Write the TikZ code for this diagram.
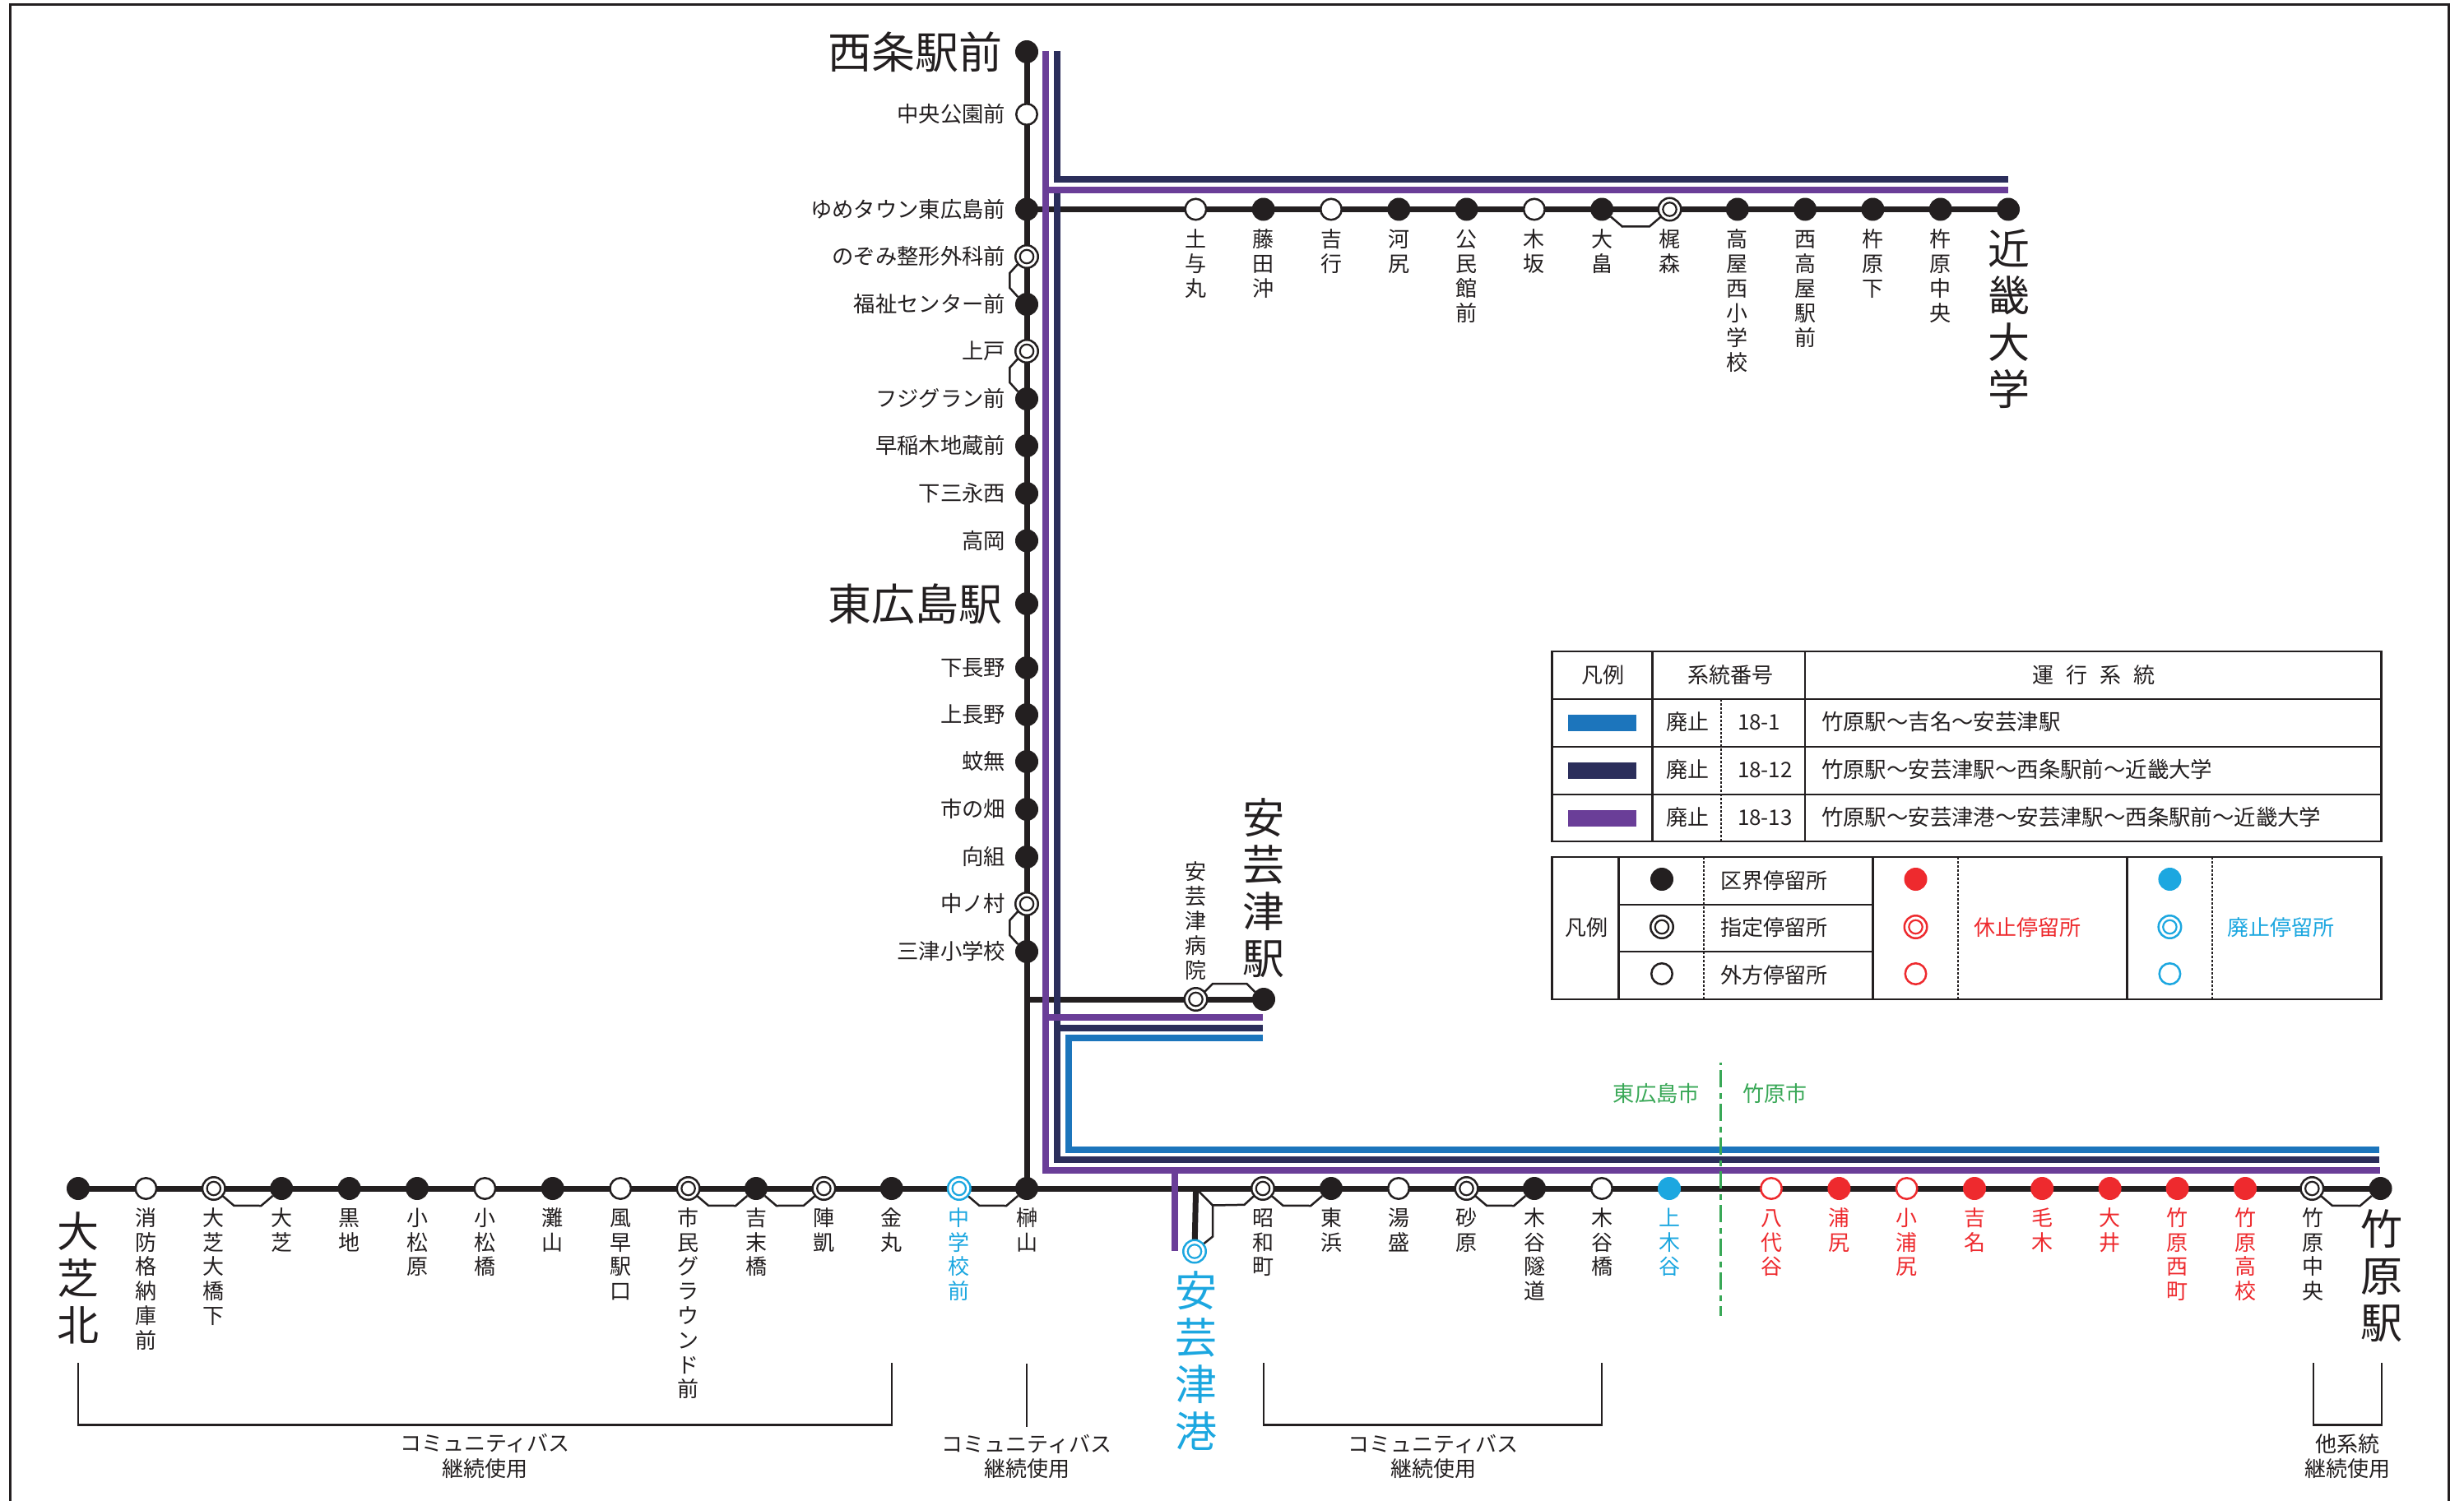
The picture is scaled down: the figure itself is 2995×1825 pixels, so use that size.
\documentclass[tikz,border=0pt]{standalone}
\usepackage{fontspec}
\setmainfont{Noto Sans CJK JP}
\usetikzlibrary{calc}
\pgfdeclarelayer{bg}
\pgfsetlayers{bg,main}
\definecolor{ink}{HTML}{231F20}
\definecolor{routepurple}{HTML}{6A3E98}
\definecolor{routenavy}{HTML}{2B2E5B}
\definecolor{routeblue}{HTML}{1C75BC}
\definecolor{stopred}{HTML}{EE2A2E}
\definecolor{stopcyan}{HTML}{1CA7E0}
\definecolor{citygreen}{HTML}{39A857}
\tikzset{
  stopfull/.style={circle,inner sep=0pt,outer sep=0pt,minimum size=14pt,fill=#1,text=#1},
  stopfull/.default=ink,
  stopopen/.style={circle,inner sep=0pt,outer sep=0pt,minimum size=12.75pt,fill=white,draw=#1,line width=1.25pt},
  stopopen/.default=ink,
  stopdbl/.style={circle,inner sep=0pt,outer sep=0pt,minimum size=13.75pt,fill=white,draw=#1,line width=1.25pt,
    path picture={\draw[#1,line width=1.1pt] (path picture bounding box.center) circle (4.1pt);}},
  stopdbl/.default=ink,
  vlabel/.style={anchor=north,inner sep=0pt,outer sep=0pt,align=center,yshift=6.5pt,
    font=\fontsize{13pt}{15pt}\selectfont},
  vlabellow/.style={vlabel,font=\fontsize{13pt}{14.9pt}\selectfont},
  vbig/.style={anchor=north,inner sep=0pt,outer sep=0pt,align=center,yshift=13pt,
    font=\fontsize{25.5pt}{28.5pt}\selectfont},
  hbase/.style={inner sep=0pt,outer sep=0pt,font=\fontsize{13pt}{15pt}\selectfont,text=ink,
    text height=11.44pt,text depth=1.56pt},
  hlabR/.style={hbase,anchor=east,font=\fontsize{13.15pt}{15pt}\selectfont},
  hlabL/.style={hbase,anchor=west},
  hlabW/.style={hbase,anchor=west,font=\fontsize{13.2pt}{15pt}\selectfont},
  hlabC/.style={hbase,anchor=center},
  hbigR/.style={anchor=east,inner sep=0pt,outer sep=0pt,font=\fontsize{26.5pt}{28pt}\selectfont,text=ink,
    text height=23.32pt,text depth=3.18pt},
  mainline/.style={draw=ink,line width=3.5pt},
  routeP/.style={draw=routepurple,line width=4pt},
  routeN/.style={draw=routenavy,line width=4pt},
  routeB/.style={draw=routeblue,line width=4pt},
  bypass/.style={draw=ink,line width=1.25pt,line join=miter},
  bracket/.style={draw=ink,line width=1.25pt},
  tableline/.style={draw=ink,line width=1.3pt},
  tabledots/.style={draw=ink,line width=1pt,dash pattern=on 1.5pt off 1pt},
  swatch/.style={inner sep=0pt,outer sep=0pt,minimum width=41.5pt,minimum height=10pt},
}
\newcommand{\vlab}[5][ink]{\node[vlabel,text=#1] (#2) at (#3,#4) {\rule{0pt}{.88em}#5};}
\newcommand{\vlow}[5][ink]{\node[vlabellow,text=#1] (#2) at (#3,#4) {\rule{0pt}{.88em}#5};}
\newcommand{\vbiglab}[5][ink]{\node[vbig,text=#1] (#2) at (#3,#4) {\rule{0pt}{.88em}#5};}
\newcommand{\bypassH}[2]{\draw[bypass] (#1.-40) -- ($(#1.-40)+(14,12)$) -- ($(#2.-140)+(-14,12)$) -- (#2.-140);}
\newcommand{\bypassV}[2]{\draw[bypass] (#1.-140) -- ($(#1.-140)+(-10,11)$) -- ($(#2.140)+(-10,-11)$) -- (#2.140);}
\begin{document}
\begin{tikzpicture}[x=0.5pt,y=-0.5pt]
\useasboundingbox (0,0) rectangle (2995,1825);

% ---------- vertical trunk stops ----------
\node[stopfull] (saijo) at (1248,63) {};
\node[stopopen] (chuo) at (1248,139) {};
\node[stopfull] (yume) at (1248,254.5) {};
\node[stopdbl] (nozomi) at (1248,312) {};
\node[stopfull] (fukushi) at (1248,370) {};
\node[stopdbl] (kamito) at (1248,427) {};
\node[stopfull] (fuji) at (1248,485) {};
\node[stopfull] (wasegi) at (1248,542) {};
\node[stopfull] (shimomi) at (1248,600) {};
\node[stopfull] (takaoka) at (1248,657.5) {};
\node[stopfull] (hiroeki) at (1248,734) {};
\node[stopfull] (shimonaga) at (1248,812) {};
\node[stopfull] (kaminaga) at (1248,869) {};
\node[stopfull] (kanashi) at (1248,926) {};
\node[stopfull] (ichino) at (1248,984) {};
\node[stopfull] (mukai) at (1248,1042) {};
\node[stopdbl] (nakano) at (1248,1099) {};
\node[stopfull] (mitsusho) at (1248,1157) {};

\node[hbigR] (t-saijo) at (1218,63) {西条駅前};
\node[hlabR] (t-chuo) at (1222,139) {中央公園前};
\node[hlabR] (t-yume) at (1222,254.5) {ゆめタウン東広島前};
\node[hlabR] (t-nozomi) at (1222,312) {のぞみ整形外科前};
\node[hlabR] (t-fukushi) at (1222,370) {福祉センター前};
\node[hlabR] (t-kamito) at (1222,427) {上戸};
\node[hlabR] (t-fuji) at (1222,485) {フジグラン前};
\node[hlabR] (t-wasegi) at (1222,542) {早稲木地蔵前};
\node[hlabR] (t-shimomi) at (1222,600) {下三永西};
\node[hlabR] (t-takaoka) at (1222,657.5) {高岡};
\node[hbigR] (t-hiroeki) at (1218,734) {東広島駅};
\node[hlabR] (t-shimonaga) at (1222,812) {下長野};
\node[hlabR] (t-kaminaga) at (1222,869) {上長野};
\node[hlabR] (t-kanashi) at (1222,926) {蚊無};
\node[hlabR] (t-ichino) at (1222,984) {市の畑};
\node[hlabR] (t-mukai) at (1222,1042) {向組};
\node[hlabR] (t-nakano) at (1222,1099) {中ノ村};
\node[hlabR] (t-mitsusho) at (1222,1157) {三津小学校};

% ---------- top branch ----------
\node[stopopen] (doyo) at (1453.4,254.5) {};
\node[stopfull] (fujita) at (1535.7,254.5) {};
\node[stopopen] (yoshiyuki) at (1618,254.5) {};
\node[stopfull] (kawajiri) at (1700.3,254.5) {};
\node[stopfull] (komin) at (1782.6,254.5) {};
\node[stopopen] (kisaka) at (1864.9,254.5) {};
\node[stopfull] (ohata) at (1947.2,254.5) {};
\node[stopdbl] (kajimori) at (2029.5,254.5) {};
\node[stopfull] (takayanishi) at (2111.8,254.5) {};
\node[stopfull] (nishitakaya) at (2194.1,254.5) {};
\node[stopfull] (kinegahara) at (2276.4,254.5) {};
\node[stopfull] (kinechuo) at (2358.7,254.5) {};
\node[stopfull] (kinki) at (2441,254.5) {};

\vlab{t-doyo}{1453.4}{291}{土\\与\\丸}
\vlab{t-fujita}{1535.7}{291}{藤\\田\\沖}
\vlab{t-yoshiyuki}{1618}{291}{吉\\行}
\vlab{t-kawajiri}{1700.3}{291}{河\\尻}
\vlab{t-komin}{1782.6}{291}{公\\民\\館\\前}
\vlab{t-kisaka}{1864.9}{291}{木\\坂}
\vlab{t-ohata}{1947.2}{291}{大\\畠}
\vlab{t-kajimori}{2029.5}{291}{梶\\森}
\vlab{t-takayanishi}{2111.8}{291}{高\\屋\\西\\小\\学\\校}
\vlab{t-nishitakaya}{2194.1}{291}{西\\高\\屋\\駅\\前}
\vlab{t-kinegahara}{2276.4}{291}{杵\\原\\下}
\vlab{t-kinechuo}{2358.7}{291}{杵\\原\\中\\央}
\vbiglab{t-kinki}{2441.5}{303}{近\\畿\\大\\学}

% ---------- Akitsu station spur ----------
\coordinate (akiJ) at (1248,1215);
\node[stopdbl] (akibyo) at (1453.5,1215) {};
\node[stopfull] (akieki) at (1536,1215) {};
\vlab{t-akibyo}{1453.5}{1060}{安\\芸\\津\\病\\院}
\vbiglab{t-akieki}{1536}{995}{安\\芸\\津\\駅}

% ---------- bottom line ----------
\node[stopfull] (oshibakita) at (95,1445) {};
\node[stopopen] (shobo) at (177.4,1445) {};
\node[stopdbl] (oshibaohashi) at (259.8,1445) {};
\node[stopfull] (oshiba) at (342.2,1445) {};
\node[stopfull] (kuroji) at (424.6,1445) {};
\node[stopfull] (komatsubara) at (507,1445) {};
\node[stopopen] (komatsubashi) at (589.4,1445) {};
\node[stopfull] (nadayama) at (671.8,1445) {};
\node[stopopen] (kazahaya) at (754.2,1445) {};
\node[stopdbl] (shimin) at (836.6,1445) {};
\node[stopfull] (yoshisue) at (919,1445) {};
\node[stopdbl] (jingai) at (1001.4,1445) {};
\node[stopfull] (kanamaru) at (1083.8,1445) {};
\node[stopdbl=stopcyan] (chugaku) at (1165.8,1445) {};
\node[stopfull] (sakaki) at (1248,1445) {};
\node[stopdbl] (showa) at (1535,1445) {};
\node[stopfull] (higashihama) at (1618,1445) {};
\node[stopopen] (yumori) at (1700,1445) {};
\node[stopdbl] (sunahara) at (1782.5,1445) {};
\node[stopfull] (kitani) at (1865,1445) {};
\node[stopopen] (kitanibashi) at (1947,1445) {};
\node[stopfull=stopcyan] (kamikitani) at (2029,1445) {};
\node[stopopen=stopred] (yashirodani) at (2153,1445) {};
\node[stopfull=stopred] (urajiri) at (2235.4,1445) {};
\node[stopopen=stopred] (kourajiri) at (2317.6,1445) {};
\node[stopfull=stopred] (yoshina) at (2400,1445) {};
\node[stopfull=stopred] (kego) at (2482.2,1445) {};
\node[stopfull=stopred] (oi) at (2564.6,1445) {};
\node[stopfull=stopred] (takenishi) at (2646.6,1445) {};
\node[stopfull=stopred] (takekoko) at (2729,1445) {};
\node[stopdbl] (takechuo) at (2810.3,1445) {};
\node[stopfull] (takeeki) at (2893.5,1445) {};
\coordinate (minatoJ) at (1453.6,1445);
\node[stopdbl=stopcyan] (minato) at (1452,1521.5) {};

\vbiglab{t-oshibakita}{95}{1498}{大\\芝\\北}
\vlow{t-shobo}{177.4}{1480.5}{消\\防\\格\\納\\庫\\前}
\vlow{t-oshibaohashi}{259.8}{1480.5}{大\\芝\\大\\橋\\下}
\vlow{t-oshiba}{342.2}{1480.5}{大\\芝}
\vlow{t-kuroji}{424.6}{1480.5}{黒\\地}
\vlow{t-komatsubara}{507}{1480.5}{小\\松\\原}
\vlow{t-komatsubashi}{589.4}{1480.5}{小\\松\\橋}
\vlow{t-nadayama}{671.8}{1480.5}{灘\\山}
\vlow{t-kazahaya}{754.2}{1480.5}{風\\早\\駅\\口}
\vlow{t-shimin}{836.6}{1480.5}{市\\民\\グ\\ラ\\ウ\\ン\\ド\\前}
\vlow{t-yoshisue}{919}{1480.5}{吉\\末\\橋}
\vlow{t-jingai}{1001.4}{1480.5}{陣\\凱}
\vlow{t-kanamaru}{1083.8}{1480.5}{金\\丸}
\vlow[stopcyan]{t-chugaku}{1165.8}{1480.5}{中\\学\\校\\前}
\vlow{t-sakaki}{1248}{1480.5}{榊\\山}
\vlow{t-showa}{1535}{1480.5}{昭\\和\\町}
\vlow{t-higashihama}{1618}{1480.5}{東\\浜}
\vlow{t-yumori}{1700}{1480.5}{湯\\盛}
\vlow{t-sunahara}{1782.5}{1480.5}{砂\\原}
\vlow{t-kitani}{1865}{1480.5}{木\\谷\\隧\\道}
\vlow{t-kitanibashi}{1947}{1480.5}{木\\谷\\橋}
\vlow[stopcyan]{t-kamikitani}{2029}{1480.5}{上\\木\\谷}
\vlow[stopred]{t-yashirodani}{2153}{1480.5}{八\\代\\谷}
\vlow[stopred]{t-urajiri}{2235.4}{1480.5}{浦\\尻}
\vlow[stopred]{t-kourajiri}{2317.6}{1480.5}{小\\浦\\尻}
\vlow[stopred]{t-yoshina}{2400}{1480.5}{吉\\名}
\vlow[stopred]{t-kego}{2482.2}{1480.5}{毛\\木}
\vlow[stopred]{t-oi}{2564.6}{1480.5}{大\\井}
\vlow[stopred]{t-takenishi}{2646.6}{1480.5}{竹\\原\\西\\町}
\vlow[stopred]{t-takekoko}{2729}{1480.5}{竹\\原\\高\\校}
\vlow{t-takechuo}{2811}{1480.5}{竹\\原\\中\\央}
\vbiglab{t-takeeki}{2895}{1495}{竹\\原\\駅}
\vbiglab[stopcyan]{t-minato}{1454}{1570}{安\\芸\\津\\港}

% ---------- city boundary labels ----------
\node[hlabR,text=citygreen] (t-higashihiroshima) at (2066,1330) {東広島市};
\node[hlabL,text=citygreen] (t-takehara) at (2118,1330) {竹原市};

% ---------- community bus labels ----------
\node[hlabC] (bus1a) at (589.5,1755) {コミュニティバス};
\node[hlabC] (bus1b) at (589.5,1785.5) {継続使用};
\node[hlabC] (bus2a) at (1248,1756) {コミュニティバス};
\node[hlabC] (bus2b) at (1248,1786) {継続使用};
\node[hlabC] (bus3a) at (1742,1756) {コミュニティバス};
\node[hlabC] (bus3b) at (1742,1786) {継続使用};
\node[hlabC] (bus4a) at (2853,1756) {他系統};
\node[hlabC] (bus4b) at (2853,1786) {継続使用};

% ---------- legend 1 ----------
\node[hlabC] (h1) at (1948.6,821) {凡例};
\node[hlabC] (h2) at (2103.5,821) {系統番号};
\node[hlabC] (h3) at (2545,821) {運\hspace{7.5pt}行\hspace{7.5pt}系\hspace{7.5pt}統};
\node[swatch,fill=routeblue] (sw1) at (1947.5,879) {};
\node[swatch,fill=routenavy] (sw2) at (1947.5,937) {};
\node[swatch,fill=routepurple] (sw3) at (1947.5,995) {};
\node[hlabC] (a1) at (2051,878) {廃止};
\node[hlabC] (a2) at (2051,936) {廃止};
\node[hlabC] (a3) at (2051,994) {廃止};
\node[hlabL] (b1) at (2112,878) {18-1};
\node[hlabL] (b2) at (2112,936) {18-12};
\node[hlabL] (b3) at (2112,994) {18-13};
\node[hlabW] (c1) at (2214,878) {竹原駅～吉名～安芸津駅};
\node[hlabW] (c2) at (2214,936) {竹原駅～安芸津駅～西条駅前～近畿大学};
\node[hlabW] (c3) at (2214,994) {竹原駅～安芸津港～安芸津駅～西条駅前～近畿大学};

% ---------- legend 2 ----------
\node[hlabC] (k0) at (1928,1128) {凡例};
\node[stopfull] (k1) at (2020,1069) {};
\node[stopdbl] (k2) at (2020,1127) {};
\node[stopopen] (k3) at (2020,1184) {};
\node[hlabL] (k1t) at (2091,1071) {区界停留所};
\node[hlabL] (k2t) at (2091,1128) {指定停留所};
\node[hlabL] (k3t) at (2091,1186) {外方停留所};
\node[stopfull=stopred] (r1) at (2328.5,1069) {};
\node[stopdbl=stopred] (r2) at (2328.5,1127) {};
\node[stopopen=stopred] (r3) at (2328.5,1184) {};
\node[hlabL,text=stopred] (rt) at (2399,1128) {休止停留所};
\node[stopfull=stopcyan] (c1s) at (2637.4,1069) {};
\node[stopdbl=stopcyan] (c2s) at (2637.4,1127) {};
\node[stopopen=stopcyan] (c3s) at (2637.4,1184) {};
\node[hlabL,text=stopcyan] (ct) at (2707.5,1128) {廃止停留所};

% ---------- everything under the stops ----------
\begin{pgfonlayer}{bg}
\fill[white] (0,0) rectangle (2995,1825);
% frame, open at the bottom
\draw[draw=ink,line width=1.5pt] (12,1825) -- (12,5.3) -- (2976,5.3) -- (2976,1825);

% black lines
\draw[mainline] (saijo.center) -- (sakaki.center);
\draw[mainline] (yume.center) -- (kinki.center);
\draw[mainline] (akiJ) -- (akieki.center);
\draw[mainline] (oshibakita.center) -- (takeeki.center);
\draw[mainline] (minatoJ) -- (minato.center);

% bypasses
\bypassV{nozomi}{fukushi}
\bypassV{kamito}{fuji}
\bypassV{nakano}{mitsusho}
\bypassH{ohata}{kajimori}
\bypassH{oshibaohashi}{oshiba}
\bypassH{shimin}{yoshisue}
\bypassH{yoshisue}{jingai}
\bypassH{chugaku}{sakaki}
\bypassH{showa}{higashihama}
\bypassH{sunahara}{kitani}
\bypassH{takechuo}{takeeki}
\draw[bypass] (akibyo.40) -- ($(akibyo.40)+(10,-10)$) -- ($(akieki.140)+(-10,-10)$) -- (akieki.140);
\coordinate (bj) at (1474,1465.5);
\draw[bypass] (minatoJ) -- (bj) -- ($(bj)+(0,38)$) -- (minato.40);
\draw[bypass] (bj) -- ($(showa.-140)+(-12,11)$) -- (showa.-140);

% route lines
\coordinate (nTop) at (1284.5,62);
\coordinate (nGap) at (1284.5,222);
\coordinate (nUpA) at (1280.5,218);
\coordinate (nUpB) at (2441,218);
\coordinate (nLowA) at (1284.5,231);
\coordinate (nCorner) at (1284.5,1410);
\coordinate (nEnd) at (2892,1410);
\coordinate (nMidA) at (1284.5,1250);
\coordinate (nMidB) at (1535,1250);
\draw[routeN] (nTop) -- (nGap);
\draw[routeN] (nUpA) -- (nUpB);
\draw[routeN] (nLowA) -- (nCorner) -- (nEnd);
\draw[routeN] (nMidA) -- (nMidB);

\coordinate (bA) at (1535,1262);
\coordinate (bB) at (1299,1262);
\coordinate (bC) at (1299,1398);
\coordinate (bD) at (2892,1398);
\draw[routeB] (bA) -- (bB) -- (bC) -- (bD);

\coordinate (pTop) at (1271,62);
\coordinate (pCorner) at (1271,1422.5);
\coordinate (pEnd) at (2893,1422.5);
\coordinate (pUpA) at (1271,231);
\coordinate (pUpB) at (2441,231);
\coordinate (pMidA) at (1271,1237);
\coordinate (pMidB) at (1535,1237);
\coordinate (pMinA) at (1428,1422.5);
\coordinate (pMinB) at (1428,1521);
\draw[routeP] (pTop) -- (pCorner) -- (pEnd);
\draw[routeP] (pUpA) -- (pUpB);
\draw[routeP] (pMidA) -- (pMidB);
\draw[routeP] (pMinA) -- (pMinB);

% city boundary
\coordinate (cityA) at (2091,1292);
\coordinate (cityB) at (2091,1600);
\draw[draw=citygreen,line width=1.5pt,dash pattern=on 3.5pt off 3pt on 10.5pt off 3.5pt,dash phase=2pt] (cityA) -- (cityB);

% brackets
\draw[bracket] (95,1657) -- (95,1732.5) -- (1084,1732.5) -- (1084,1657);
\draw[bracket] (1248,1658) -- (1248,1735);
\draw[bracket] (1536,1657) -- (1536,1732.5) -- (1947,1732.5) -- (1947,1657);
\draw[bracket] (2812,1657) -- (2812,1732.5) -- (2895,1732.5) -- (2895,1657);

% legend 1 rules
\draw[tableline] (1886.5,792) rectangle (2894.5,1023);
\draw[tableline] (1886.5,850) -- (2894.5,850);
\draw[tableline] (1886.5,908) -- (2894.5,908);
\draw[tableline] (1886.5,966) -- (2894.5,966);
\draw[tableline] (2008.5,792) -- (2008.5,1023);
\draw[tableline] (2194,792) -- (2194,1023);
\draw[tabledots] (2092,850) -- (2092,1023);

% legend 2 rules
\draw[tableline] (1886.5,1042) rectangle (2894.5,1215);
\draw[tableline] (1967.6,1042) -- (1967.6,1215);
\draw[tableline] (2276.6,1042) -- (2276.6,1215);
\draw[tableline] (2585.6,1042) -- (2585.6,1215);
\draw[tableline] (1967.6,1100) -- (2276.6,1100);
\draw[tableline] (1967.6,1157) -- (2276.6,1157);
\draw[tabledots] (2071,1042) -- (2071,1215);
\draw[tabledots] (2380,1042) -- (2380,1215);
\draw[tabledots] (2688.5,1042) -- (2688.5,1215);
\end{pgfonlayer}
\end{tikzpicture}
\end{document}
